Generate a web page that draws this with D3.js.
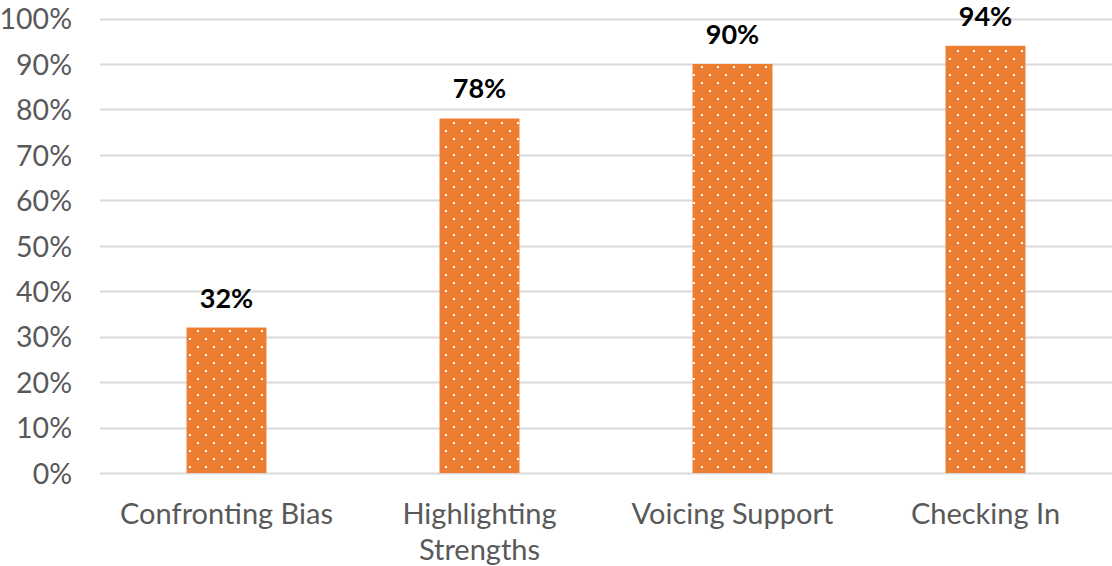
<!DOCTYPE html>
<html><head><meta charset="utf-8">
<script src="https://cdn.jsdelivr.net/npm/d3@7/dist/d3.min.js"></script>
<style>body{margin:0;background:#fff}svg{display:block}</style>
</head><body>
<svg id="chart" width="1112" height="566"></svg>
<script>
const categories = [["Confronting Bias"], ["Highlighting", "Strengths"], ["Voicing Support"], ["Checking In"]];
const values = [32, 78, 90, 94];
const yTicks = [0, 10, 20, 30, 40, 50, 60, 70, 80, 90, 100];

const W = 1112, H = 566;
const margin = {left: 100, right: 0, top: 18.5, bottom: 93};
const svg = d3.select("#chart");
const font = "Lato, 'Open Sans', sans-serif";

const names = categories.map(c => c.join(" "));
const x = d3.scaleBand().domain(names).range([margin.left, W - margin.right])
  .paddingInner(0.684).paddingOuter(0.342);
const y = d3.scaleLinear().domain([0, 100]).range([H - margin.bottom, margin.top]);

const defs = svg.append("defs");
const pat = defs.append("pattern").attr("id", "dots").attr("patternUnits", "userSpaceOnUse")
  .attr("width", 16).attr("height", 16).attr("x", 5).attr("y", 10);
pat.append("rect").attr("width", 16).attr("height", 16).attr("fill", "#ED7D31");
pat.append("rect").attr("x", 0).attr("y", 0).attr("width", 2).attr("height", 2).attr("fill", "#fff");
pat.append("rect").attr("x", 8).attr("y", 8).attr("width", 2).attr("height", 2).attr("fill", "#fff");

// gridlines
svg.append("g").selectAll("line").data(yTicks).join("line")
  .attr("x1", margin.left).attr("x2", W - margin.right)
  .attr("y1", d => Math.round(y(d)) + 0.5).attr("y2", d => Math.round(y(d)) + 0.5)
  .attr("stroke", "#D9D9D9").attr("stroke-width", 2);

// y axis labels
const yAxis = d3.axisLeft(y).tickValues(yTicks).tickFormat(d => d + "%").tickSize(0).tickPadding(0);
const ya = svg.append("g").attr("transform", `translate(72,0)`).call(yAxis);
ya.select(".domain").remove();
ya.selectAll("text").attr("font-family", font).attr("font-size", 28.5).attr("fill", "#595959").attr("dy", "0.36em");

// bars
svg.append("g").selectAll("rect").data(values).join("rect")
  .attr("x", (d, i) => x(names[i])).attr("width", x.bandwidth())
  .attr("y", d => y(d)).attr("height", d => y(0) - y(d))
  .attr("fill", "url(#dots)");

// value labels
svg.append("g").selectAll("text").data(values).join("text")
  .attr("x", (d, i) => x(names[i]) + x.bandwidth() / 2)
  .attr("y", d => y(d) - 20)
  .attr("text-anchor", "middle").attr("font-family", font).attr("font-weight", "bold")
  .attr("font-size", 27).attr("fill", "#000").text(d => d + "%");

// x labels
const xl = svg.append("g").selectAll("text").data(categories).join("text")
  .attr("x", (d, i) => x(names[i]) + x.bandwidth() / 2)
  .attr("y", 524)
  .attr("text-anchor", "middle").attr("font-family", font).attr("font-size", 29).attr("fill", "#595959");
xl.selectAll("tspan").data((d, i) => d.map(t => ({t, i}))).join("tspan")
  .attr("x", function(d) { return x(names[d.i]) + x.bandwidth() / 2; })
  .attr("dy", (d, j) => j === 0 ? 0 : 36).text(d => d.t);
</script>
</body></html>
